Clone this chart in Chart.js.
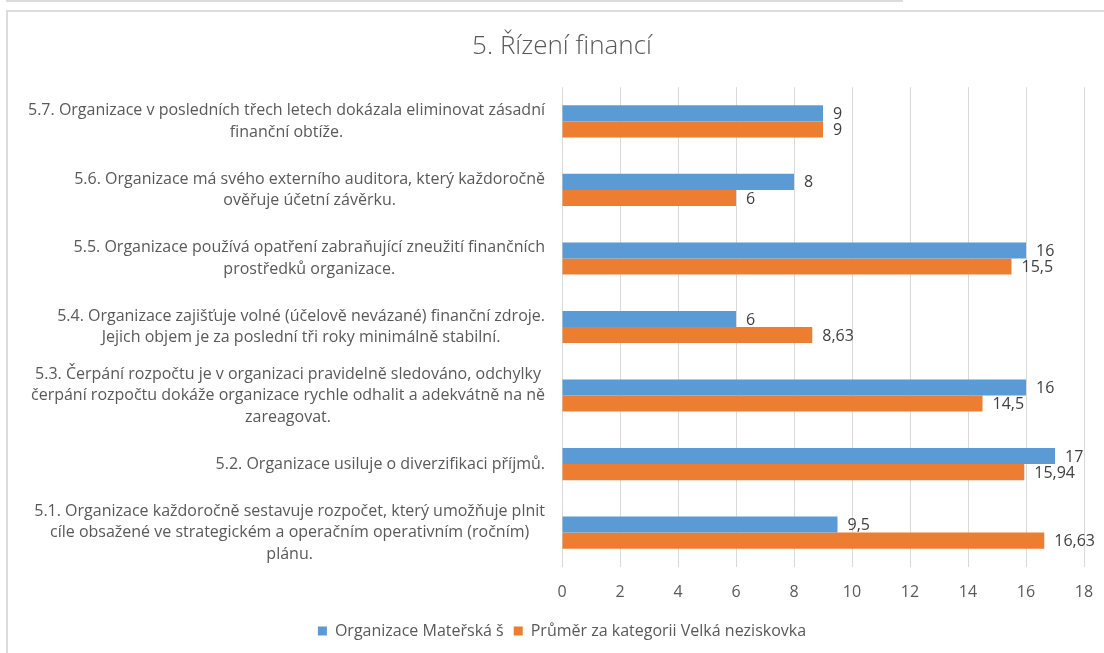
<!DOCTYPE html>
<html lang="cs">
<head>
<meta charset="utf-8">
<title>5. Řízení financí</title>
<script src="https://cdn.jsdelivr.net/npm/chart.js@4.4.1/dist/chart.umd.min.js"></script>
<style>
    html, body { margin: 0; padding: 0; background: #fff; }
    #wrap { position: relative; width: 1104px; height: 653px; overflow: hidden; }
    .strip { position: absolute; left: 6px; top: 0; width: 897px; height: 2px; background: #dcdcdc; }
    .frame { position: absolute; left: 6px; top: 10px; width: 1200px; height: 700px;
             border-left: 2px solid #dcdcdc; border-top: 2px solid #dcdcdc; }
    canvas { position: absolute; left: 0; top: 0; }
</style>
</head>
<body>
<div id="wrap">
    <div class="strip"></div>
    <div class="frame"></div>
    <canvas id="chart-bar" width="1104" height="653"></canvas>
</div>
<script>
// ── 資料 ──
const categories = [
    ['5.7. Organizace v posledních třech letech dokázala eliminovat zásadní', 'finanční obtíže.'],
    ['5.6. Organizace má svého externího auditora, který každoročně', 'ověřuje účetní závěrku.'],
    ['5.5. Organizace používá opatření zabraňující zneužití finančních', 'prostředků organizace.'],
    ['5.4. Organizace zajišťuje volné (účelově nevázané) finanční zdroje.', 'Jejich objem je za poslední tři roky minimálně stabilní.'],
    ['5.3. Čerpání rozpočtu je v organizaci pravidelně sledováno, odchylky', 'čerpání rozpočtu dokáže organizace rychle odhalit a adekvátně na ně', 'zareagovat.'],
    ['5.2. Organizace usiluje o diverzifikaci příjmů.'],
    ['5.1. Organizace každoročně sestavuje rozpočet, který umožňuje plnit', 'cíle obsažené ve strategickém a operačním operativním (ročním)', 'plánu.'],
];
const seriesNames = ['Organizace Mateřská š', 'Průměr za kategorii Velká neziskovka'];
const orgValues = [9, 8, 16, 6, 16, 17, 9.5];
const avgValues = [9, 6, 15.5, 8.63, 14.5, 15.94, 16.63];
const xTicks = [0, 2, 4, 6, 8, 10, 12, 14, 16, 18];

const FONT = "'Open Sans', 'Noto Sans', sans-serif";
const TEXT = '#595959';

// ── 數值標籤 ──
const valueLabels = {
    id: 'valueLabels',
    afterDatasetsDraw(chart) {
        const ctx = chart.ctx;
        ctx.save();
        ctx.font = '16px ' + FONT;
        ctx.fillStyle = '#404040';
        ctx.textAlign = 'left';
        ctx.textBaseline = 'middle';
        chart.data.datasets.forEach((ds, di) => {
            chart.getDatasetMeta(di).data.forEach((bar, i) => {
                const txt = String(ds.data[i]).replace('.', ',');
                ctx.fillText(txt, bar.x + 10, bar.y + 1);
            });
        });
        ctx.restore();
    },
};

// ── 類別標籤（區塊靠右、行置中） ──
const categoryLabels = {
    id: 'categoryLabels',
    afterDraw(chart) {
        const ctx = chart.ctx;
        const yScale = chart.scales.y;
        const right = chart.chartArea.left - 17;
        const lineH = 21.5;
        ctx.save();
        ctx.font = '16px ' + FONT;
        ctx.fillStyle = TEXT;
        ctx.textAlign = 'center';
        ctx.textBaseline = 'middle';
        categories.forEach((lines, i) => {
            const cy = yScale.getPixelForValue(i);
            const w = Math.max(...lines.map(l => ctx.measureText(l).width));
            const cx = right - w / 2;
            lines.forEach((line, j) => {
                ctx.fillText(line, cx, cy + (j - (lines.length - 1) / 2) * lineH);
            });
        });
        ctx.restore();
    },
};

const ctx = document.getElementById('chart-bar').getContext('2d');
new Chart(ctx, {
    type: 'bar',
    data: {
        labels: categories,
        datasets: [
            {
                label: seriesNames[0],
                data: orgValues,
                backgroundColor: '#5B9BD5',
                borderWidth: 0,
            },
            {
                label: seriesNames[1],
                data: avgValues,
                backgroundColor: '#ED7D31',
                borderWidth: 0,
            },
        ],
    },
    options: {
        indexAxis: 'y',
        responsive: false,
        animation: false,
        layout: { padding: { top: 20, right: 20, bottom: 4, left: 40 } },
        datasets: { bar: { barPercentage: 1, categoryPercentage: 0.47 } },
        plugins: {
            title: {
                display: true,
                text: '5. Řízení financí',
                color: TEXT,
                font: { family: FONT, size: 26, weight: 300 },
                padding: { top: 11, bottom: 25 },
            },
            legend: {
                position: 'bottom',
                labels: {
                    color: TEXT,
                    font: { family: FONT, size: 16 },
                    boxWidth: 9,
                    boxHeight: 9,
                    padding: 10,
                },
            },
            tooltip: { enabled: false },
        },
        scales: {
            x: {
                min: 0,
                max: 18,
                afterBuildTicks: scale => { scale.ticks = xTicks.map(v => ({ value: v })); },
                ticks: { color: TEXT, font: { family: FONT, size: 16 }, padding: 16 },
                grid: { color: '#D9D9D9', drawTicks: false },
                border: { display: false },
                afterFit: scale => {
                    scale.height -= 5;
                    scale.paddingRight = 0;
                },
            },
            y: {
                ticks: { display: false },
                grid: { display: false },
                border: { display: false },
                afterFit: scale => { scale.width = 522; },
            },
        },
    },
    plugins: [valueLabels, categoryLabels],
});
</script>
</body>
</html>
